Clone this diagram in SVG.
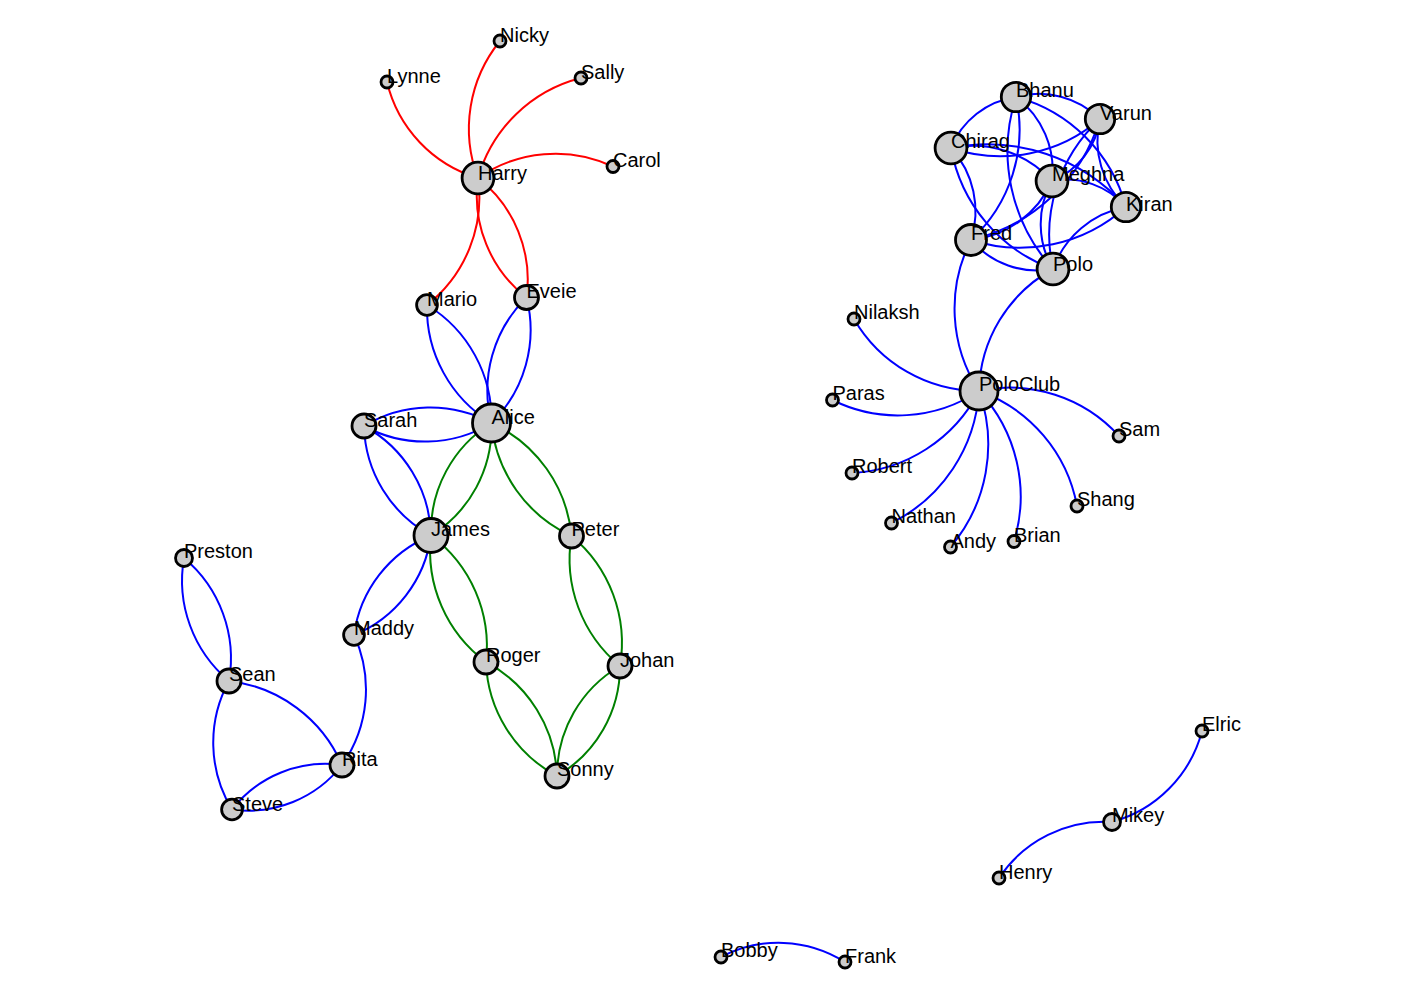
<svg xmlns="http://www.w3.org/2000/svg" width="1424" height="1002" viewBox="0 0 1424 1002">
<style>
.l{fill:none;stroke-width:2}
.r{stroke:#ff0000}
.b{stroke:#0000ff}
.g{stroke:#008000}
circle{fill:#cccccc;stroke:#000;stroke-width:2.8}
text{font-family:"Liberation Sans",Arial,sans-serif;font-size:20px;fill:#000}
</style>
<rect width="1424" height="1002" fill="#fff"/>
<g id="links">
<path class="l r" d="M478,178 A132.3,132.3 0 0,1 387,82"/>
<path class="l r" d="M478,178 A138.8,138.8 0 0,1 500,41"/>
<path class="l r" d="M478,178 A143.6,143.6 0 0,1 581,78"/>
<path class="l r" d="M478,178 A135.5,135.5 0 0,1 613,166.5"/>
<path class="l r" d="M478,178 A136.9,136.9 0 0,1 427,305"/>
<path class="l r" d="M478,178 A129,129 0 0,1 526.5,297.5"/>
<path class="l r" d="M526.5,297.5 A129,129 0 0,1 478,178"/>
<path class="l b" d="M427,305 A134.5,134.5 0 0,1 491.5,423"/>
<path class="l b" d="M491.5,423 A134.5,134.5 0 0,1 427,305"/>
<path class="l b" d="M526.5,297.5 A130.3,130.3 0 0,1 491.5,423"/>
<path class="l b" d="M491.5,423 A130.3,130.3 0 0,1 526.5,297.5"/>
<path class="l b" d="M364,426 A127.5,127.5 0 0,1 491.5,423"/>
<path class="l b" d="M491.5,423 A127.5,127.5 0 0,1 364,426"/>
<path class="l b" d="M364,426 A128.4,128.4 0 0,1 431,535.5"/>
<path class="l b" d="M431,535.5 A128.4,128.4 0 0,1 364,426"/>
<path class="l b" d="M431,535.5 A125.8,125.8 0 0,1 354,635"/>
<path class="l b" d="M354,635 A125.8,125.8 0 0,1 431,535.5"/>
<path class="l b" d="M354,635 A130.6,130.6 0 0,1 342,765"/>
<path class="l b" d="M184,558 A131,131 0 0,1 229,681"/>
<path class="l b" d="M229,681 A131,131 0 0,1 184,558"/>
<path class="l b" d="M229,681 A140.8,140.8 0 0,1 342,765"/>
<path class="l b" d="M232,809.5 A128.5,128.5 0 0,1 229,681"/>
<path class="l b" d="M232,809.5 A118.7,118.7 0 0,1 342,765"/>
<path class="l b" d="M342,765 A118.7,118.7 0 0,1 232,809.5"/>
<path class="l g" d="M491.5,423 A127.7,127.7 0 0,1 431,535.5"/>
<path class="l g" d="M431,535.5 A127.7,127.7 0 0,1 491.5,423"/>
<path class="l g" d="M491.5,423 A138.5,138.5 0 0,1 571.5,536"/>
<path class="l g" d="M571.5,536 A138.5,138.5 0 0,1 491.5,423"/>
<path class="l g" d="M431,535.5 A137.9,137.9 0 0,1 486,662"/>
<path class="l g" d="M486,662 A137.9,137.9 0 0,1 431,535.5"/>
<path class="l g" d="M571.5,536 A138.8,138.8 0 0,1 620,666"/>
<path class="l g" d="M620,666 A138.8,138.8 0 0,1 571.5,536"/>
<path class="l g" d="M486,662 A134.3,134.3 0 0,1 557,776"/>
<path class="l g" d="M557,776 A134.3,134.3 0 0,1 486,662"/>
<path class="l g" d="M620,666 A126.8,126.8 0 0,1 557,776"/>
<path class="l g" d="M557,776 A126.8,126.8 0 0,1 620,666"/>
<path class="l b" d="M1016,97 A86.8,86.8 0 0,1 1100,119"/>
<path class="l b" d="M1016,97 A155.6,155.6 0 0,1 1126,207"/>
<path class="l b" d="M951,148 A82.6,82.6 0 0,1 1016,97"/>
<path class="l b" d="M1100,119 A151.8,151.8 0 0,1 951,148"/>
<path class="l b" d="M951,148 A106.3,106.3 0 0,1 1052,181"/>
<path class="l b" d="M1016,97 A149.9,149.9 0 0,1 971,240"/>
<path class="l b" d="M1053,269 A175.9,175.9 0 0,1 1016,97"/>
<path class="l b" d="M1016,97 A91.4,91.4 0 0,1 1052,181"/>
<path class="l b" d="M1100,119 A78.4,78.4 0 0,1 1052,181"/>
<path class="l b" d="M1126,207 A91.8,91.8 0 0,1 1100,119"/>
<path class="l b" d="M1053,269 A157.2,157.2 0 0,1 1100,119"/>
<path class="l b" d="M1100,119 A176.9,176.9 0 0,1 971,240"/>
<path class="l b" d="M1052,181 A78.4,78.4 0 0,1 1126,207"/>
<path class="l b" d="M1052,181 A100.2,100.2 0 0,1 971,240"/>
<path class="l b" d="M1126,207 A158.5,158.5 0 0,1 971,240"/>
<path class="l b" d="M1053,269 A95.8,95.8 0 0,1 1126,207"/>
<path class="l b" d="M1053,269 A87,87 0 0,1 971,240"/>
<path class="l b" d="M951,148 A94.1,94.1 0 0,1 971,240"/>
<path class="l b" d="M1053,269 A158.3,158.3 0 0,1 951,148"/>
<path class="l b" d="M951,148 A184.7,184.7 0 0,1 1126,207"/>
<path class="l b" d="M1053,269 A88,88 0 0,1 1052,181"/>
<path class="l b" d="M979,391 A144.3,144.3 0 0,1 854,319"/>
<path class="l b" d="M979,391 A146.8,146.8 0 0,1 832.5,400"/>
<path class="l b" d="M979,391 A151.2,151.2 0 0,1 852,473"/>
<path class="l b" d="M979,391 A158.4,158.4 0 0,1 891.5,523"/>
<path class="l b" d="M979,391 A158.6,158.6 0 0,1 950.5,547"/>
<path class="l b" d="M979,391 A154.5,154.5 0 0,1 1014,541.5"/>
<path class="l b" d="M979,391 A151.1,151.1 0 0,1 1077,506"/>
<path class="l b" d="M979,391 A147.1,147.1 0 0,1 1119,436"/>
<path class="l b" d="M979,391 A151.2,151.2 0 0,1 971,240"/>
<path class="l b" d="M979,391 A142.7,142.7 0 0,1 1053,269"/>
<path class="l b" d="M1202,731 A128,128 0 0,1 1112,822"/>
<path class="l b" d="M999,878 A126.1,126.1 0 0,1 1112,822"/>
<path class="l b" d="M721,957 A124.1,124.1 0 0,1 845,962"/>
</g>
<g id="nodes">
<g id="n-Nicky"><circle cx="500" cy="41" r="6"/><text x="500" y="42">Nicky</text></g>
<g id="n-Lynne"><circle cx="387" cy="82" r="6"/><text x="387" y="83">Lynne</text></g>
<g id="n-Sally"><circle cx="581" cy="78" r="6"/><text x="581" y="79">Sally</text></g>
<g id="n-Carol"><circle cx="613" cy="166.5" r="6"/><text x="613" y="167">Carol</text></g>
<g id="n-Harry"><circle cx="478" cy="178" r="15.9"/><text x="478" y="180">Harry</text></g>
<g id="n-Mario"><circle cx="427" cy="305" r="10.4"/><text x="427" y="306">Mario</text></g>
<g id="n-Eveie"><circle cx="526.5" cy="297.5" r="12"/><text x="526.5" y="298">Eveie</text></g>
<g id="n-Alice"><circle cx="491.5" cy="423" r="19"/><text x="491.5" y="424">Alice</text></g>
<g id="n-Sarah"><circle cx="364" cy="426" r="12"/><text x="364" y="427">Sarah</text></g>
<g id="n-James"><circle cx="431" cy="535.5" r="17"/><text x="431" y="536">James</text></g>
<g id="n-Peter"><circle cx="571.5" cy="536" r="12"/><text x="571.5" y="536">Peter</text></g>
<g id="n-Maddy"><circle cx="354" cy="635" r="10.4"/><text x="354" y="635">Maddy</text></g>
<g id="n-Roger"><circle cx="486" cy="662" r="12"/><text x="486" y="662">Roger</text></g>
<g id="n-Johan"><circle cx="620" cy="666" r="12"/><text x="620" y="667">Johan</text></g>
<g id="n-Sonny"><circle cx="557" cy="776" r="12"/><text x="557" y="776">Sonny</text></g>
<g id="n-Preston"><circle cx="184" cy="558" r="8.5"/><text x="184" y="558">Preston</text></g>
<g id="n-Sean"><circle cx="229" cy="681" r="12"/><text x="229" y="681">Sean</text></g>
<g id="n-Rita"><circle cx="342" cy="765" r="12"/><text x="342" y="766">Rita</text></g>
<g id="n-Steve"><circle cx="232" cy="809.5" r="10.4"/><text x="232" y="811">Steve</text></g>
<g id="n-Bhanu"><circle cx="1016" cy="97" r="14.7"/><text x="1016" y="97">Bhanu</text></g>
<g id="n-Varun"><circle cx="1100" cy="119" r="14.7"/><text x="1100" y="120">Varun</text></g>
<g id="n-Chirag"><circle cx="951" cy="148" r="15.9"/><text x="951" y="148">Chirag</text></g>
<g id="n-Meghna"><circle cx="1052" cy="181" r="15.9"/><text x="1052" y="181">Meghna</text></g>
<g id="n-Kiran"><circle cx="1126" cy="207" r="14.7"/><text x="1126" y="211">Kiran</text></g>
<g id="n-Fred"><circle cx="971" cy="240" r="15.5"/><text x="971" y="240">Fred</text></g>
<g id="n-Polo"><circle cx="1053" cy="269" r="15.9"/><text x="1053" y="271">Polo</text></g>
<g id="n-PoloClub"><circle cx="979" cy="391" r="19"/><text x="979" y="391">PoloClub</text></g>
<g id="n-Nilaksh"><circle cx="854" cy="319" r="6"/><text x="854" y="319">Nilaksh</text></g>
<g id="n-Paras"><circle cx="832.5" cy="400" r="6"/><text x="832.5" y="400">Paras</text></g>
<g id="n-Robert"><circle cx="852" cy="473" r="6"/><text x="852" y="473">Robert</text></g>
<g id="n-Nathan"><circle cx="891.5" cy="523" r="6"/><text x="891.5" y="523">Nathan</text></g>
<g id="n-Andy"><circle cx="950.5" cy="547" r="6"/><text x="950.5" y="548">Andy</text></g>
<g id="n-Brian"><circle cx="1014" cy="541.5" r="6"/><text x="1014" y="542">Brian</text></g>
<g id="n-Shang"><circle cx="1077" cy="506" r="6"/><text x="1077" y="506">Shang</text></g>
<g id="n-Sam"><circle cx="1119" cy="436" r="6"/><text x="1119" y="436">Sam</text></g>
<g id="n-Elric"><circle cx="1202" cy="731" r="6"/><text x="1202" y="731">Elric</text></g>
<g id="n-Mikey"><circle cx="1112" cy="822" r="8.5"/><text x="1112" y="822">Mikey</text></g>
<g id="n-Henry"><circle cx="999" cy="878" r="6"/><text x="999" y="879">Henry</text></g>
<g id="n-Bobby"><circle cx="721" cy="957" r="6"/><text x="721" y="957">Bobby</text></g>
<g id="n-Frank"><circle cx="845" cy="962" r="6"/><text x="845" y="963">Frank</text></g>
</g>
</svg>
